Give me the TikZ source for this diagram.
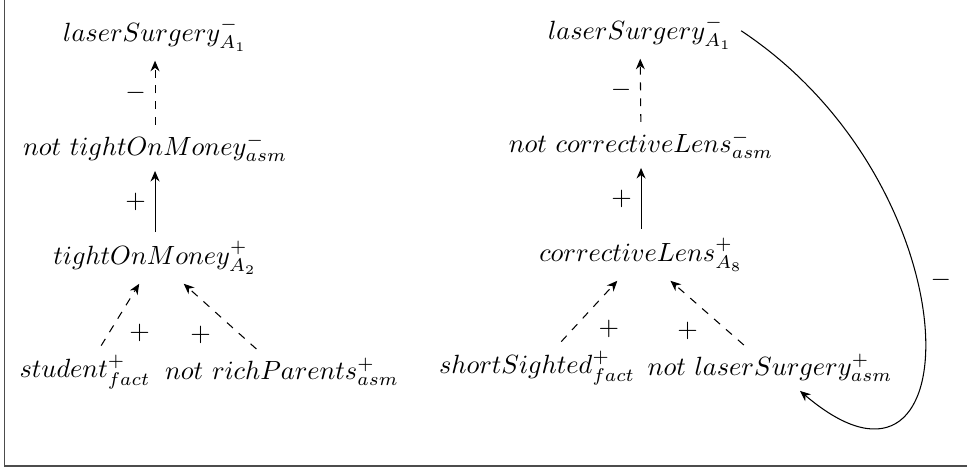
\documentclass[tikz,border=0pt]{standalone}
\usetikzlibrary{arrows.meta,positioning}

\begin{document}
\begin{tikzpicture}[
  >={Stealth[length=4pt,width=3.4pt]},
  lit/.style={inner sep=3.3pt},
  supp/.style={->},
  asmp/.style={->, dashed},
  sign/.style={inner sep=3.3pt}
]
  \useasboundingbox (0,0) rectangle (12.893,6.253);
  % Frame
  \draw[black!70, line width=0.6pt] (0.06,6.4) -- (0.06,0.04) -- (13,0.04);

  % First argument
  \node[lit] (lsA) at (2.067,5.787) {$laserSurgery^{-}_{A_1}$};
  \node[lit] (ntm) at (2.067,4.28) {$not\ tightOnMoney^{-}_{asm}$};
  \node[lit] (tm) at (2.067,2.813) {$tightOnMoney^{+}_{A_2}$};
  \node[lit] (st) at (1.133,1.293) {$student^{+}_{fact}$};
  \node[lit] (nrp) at (3.76,1.293) {$not\ richParents^{+}_{asm}$};

  \draw[asmp] (ntm) -- node[sign, midway, left] (s1) {$-$} (lsA);
  \draw[supp] (tm) -- node[sign, midway, left] (s2) {$+$} (ntm);
  \draw[asmp] (st) -- node[sign, midway, below right] (s3) {$+$} (tm);
  \draw[asmp] (nrp) -- node[sign, midway, below left] (s4) {$+$} (tm);

  % Second argument
  \node[lit] (lsB) at (8.533,5.813) {$laserSurgery^{-}_{A_1}$};
  \node[lit] (ncl) at (8.547,4.32) {$not\ correctiveLens^{-}_{asm}$};
  \node[lit] (cl) at (8.547,2.853) {$correctiveLens^{+}_{A_8}$};
  \node[lit] (ss) at (7.16,1.347) {$shortSighted^{+}_{fact}$};
  \node[lit] (nls) at (10.267,1.347) {$not\ laserSurgery^{+}_{asm}$};

  \draw[asmp] (ncl) -- node[sign, midway, left] (s5) {$-$} (lsB);
  \draw[supp] (cl) -- node[sign, midway, left] (s6) {$+$} (ncl);
  \draw[asmp] (ss) -- node[sign, midway, below right] (s7) {$+$} (cl);
  \draw[asmp] (nls) -- node[sign, midway, below left] (s8) {$+$} (cl);

  % Attack on the assumption
  \draw[supp] ([yshift=0.03cm]lsB.east) .. controls (13.027,3.76) and (12.987,-0.933) .. node[sign, pos=0.42, right, inner sep=5pt] (s9) {$-$} ([xshift=0.4cm]nls.south);
\end{tikzpicture}
\end{document}
